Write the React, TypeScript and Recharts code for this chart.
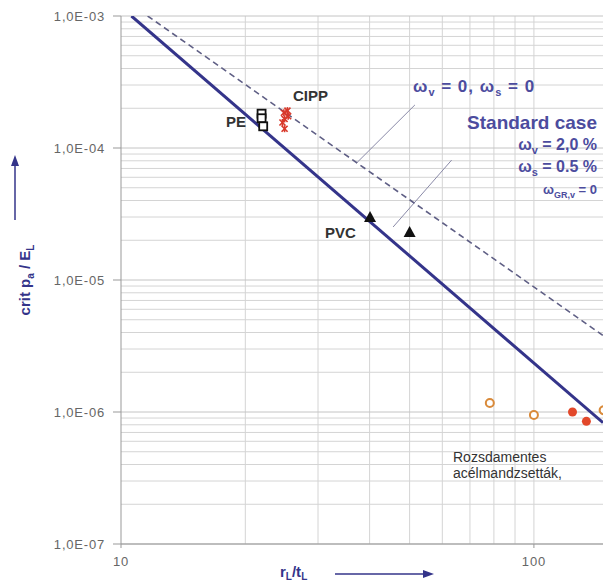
import React from "react";
import {
  ComposedChart,
  Scatter,
  XAxis,
  YAxis,
  ReferenceLine,
} from "recharts";

// log-log buckling chart: crit p_a / E_L against r_L / t_L
const X_TICKS = [10, 100];
const Y_TICKS = [1e-7, 1e-6, 1e-5, 1e-4, 1e-3];
const X_GRID = [20, 30, 40, 50, 60, 70, 80, 90, 100];
const Y_GRID_STEPS = [2, 3, 4, 5, 6, 7, 8, 9];
const Y_DECADES = [1e-7, 1e-6, 1e-5, 1e-4];

const standardCase = [
  { x: 10.6, y: 1e-3 },
  { x: 147, y: 8.3e-7 },
];
const noGapCase = [
  { x: 11.6, y: 1e-3 },
  { x: 147, y: 3.8e-6 },
];

const pePoints = [
  { x: 21.9, y: 1.82e-4 },
  { x: 21.9, y: 1.68e-4 },
  { x: 22.1, y: 1.46e-4 },
];
const cippPoints = [
  { x: 24.8, y: 1.85e-4 },
  { x: 25.3, y: 1.92e-4 },
  { x: 25.4, y: 1.74e-4 },
  { x: 24.9, y: 1.66e-4 },
  { x: 24.6, y: 1.56e-4 },
  { x: 24.9, y: 1.4e-4 },
];
const pvcPoints = [
  { x: 40.1, y: 3.0e-5 },
  { x: 50.0, y: 2.31e-5 },
];
const steelOpen = [
  { x: 78.2, y: 1.17e-6 },
  { x: 100, y: 9.5e-7 },
  { x: 147.5, y: 1.03e-6 },
];
const steelFilled = [
  { x: 124, y: 1.0e-6 },
  { x: 134, y: 8.5e-7 },
];

const leaderNoGap = [
  { x: 51.5, y: 2.12e-4 },
  { x: 37.2, y: 7.7e-5 },
];
const leaderStandard = [
  { x: 63.2, y: 8.1e-5 },
  { x: 45.6, y: 2.52e-5 },
];

const NAVY = "#34348a";
const LABEL_BLUE = "#4c4c9e";
const GRID = "#d4d4d4";

const yGrid = Y_DECADES.flatMap((d) => Y_GRID_STEPS.map((s) => s * d));

const formatY = (v: number) =>
  "1,0E-" + String(-Math.round(Math.log10(v))).padStart(2, "0");

const NoShape = () => <g />;

const Square = (p: any) => (
  <rect
    x={p.cx - 4}
    y={p.cy - 4}
    width={8}
    height={8}
    fill="#fff"
    stroke="#111"
    strokeWidth={1.8}
  />
);

const Star = (p: any) => (
  <g stroke="#d8382a" strokeWidth={1.6}>
    <line x1={p.cx - 3} y1={p.cy - 3} x2={p.cx + 3} y2={p.cy + 3} />
    <line x1={p.cx - 3} y1={p.cy + 3} x2={p.cx + 3} y2={p.cy - 3} />
    <line x1={p.cx} y1={p.cy - 3.5} x2={p.cx} y2={p.cy + 3.5} />
  </g>
);

const Triangle = (p: any) => (
  <polygon
    points={`${p.cx},${p.cy - 6} ${p.cx - 6},${p.cy + 5} ${p.cx + 6},${p.cy + 5}`}
    fill="#111"
  />
);

const OpenCircle = (p: any) => (
  <circle cx={p.cx} cy={p.cy} r={4} fill="#fff" stroke="#d98a3a" strokeWidth={2} />
);

const DotCircle = (p: any) => (
  <circle cx={p.cx} cy={p.cy} r={4.5} fill="#e2482a" />
);

const sub = (t: string, size = 10, shift = 4) => (
  <tspan fontSize={size} dy={shift}>
    {t}
  </tspan>
);

function Overlay() {
  const bold = { fontFamily: "Liberation Sans, Arial, sans-serif", fontWeight: 700 };
  return (
    <svg
      width={603}
      height={584}
      style={{ position: "absolute", left: 0, top: 0, pointerEvents: "none" }}
    >
      <g {...bold} fill="#333" fontSize={15}>
        <text x={293} y={101}>CIPP</text>
        <text x={226} y={127}>PE</text>
        <text x={325} y={238}>PVC</text>
      </g>
      <g {...bold} fill={LABEL_BLUE}>
        <text x={413} y={92} fontSize={17} letterSpacing={1}>
          ω{sub("v", 11)}
          <tspan dy={-4}> = 0, ω</tspan>
          {sub("s", 11)}
          <tspan dy={-4}> = 0</tspan>
        </text>
        <text x={597} y={129} fontSize={19} textAnchor="end">
          Standard case
        </text>
        <text x={597} y={150} fontSize={16} textAnchor="end">
          ω{sub("v", 11)}
          <tspan dy={-4}> = 2,0 %</tspan>
        </text>
        <text x={597} y={172} fontSize={16} textAnchor="end">
          ω{sub("s", 11)}
          <tspan dy={-4}> = 0.5 %</tspan>
        </text>
        <text x={597} y={194} fontSize={13} textAnchor="end">
          ω{sub("GR,v", 9)}
          <tspan dy={-4}> = 0</tspan>
        </text>
      </g>
      <g fontFamily="Liberation Sans, Arial, sans-serif" fontSize={14} fill="#333">
        <text x={453} y={462}>Rozsdamentes</text>
        <text x={453} y={478}>acélmandzsetták,</text>
      </g>

      <g {...bold} fill={NAVY} fontSize={15}>
        <text x={0} y={0} textAnchor="middle" transform="translate(30,280) rotate(-90)">
          crit p{sub("a")}
          <tspan dy={-4}> / E</tspan>
          {sub("L")}
        </text>
        <text x={280} y={577}>
          r{sub("L", 10, 3)}
          <tspan dy={-3}>/t</tspan>
          {sub("L", 10, 3)}
        </text>
      </g>
      <line x1={15} y1={220} x2={15} y2={164} stroke={NAVY} strokeWidth={1.5} />
      <polygon points="15,155 11,166 19,166" fill={NAVY} />
      <line x1={335} y1={574} x2={425} y2={574} stroke={NAVY} strokeWidth={1.5} />
      <polygon points="434,574 423,570 423,578" fill={NAVY} />
    </svg>
  );
}

export default function App() {
  const tickStyle = {
    fill: "#666",
    fontSize: 13,
    fontFamily: "Liberation Sans, Arial, sans-serif",
    letterSpacing: 0.8,
  };
  return (
    <div
      style={{
        position: "absolute",
        left: 0,
        top: 0,
        width: 603,
        height: 584,
        background: "#fff",
        overflow: "hidden",
      }}
    >
      <ComposedChart
        width={603}
        height={584}
        margin={{ top: 16, right: 0, bottom: 0, left: 0 }}
      >
        <XAxis
          type="number"
          dataKey="x"
          scale="log"
          domain={[10, 147]}
          allowDataOverflow
          ticks={X_TICKS}
          height={40}
          tickSize={4}
          tickMargin={9}
          stroke="#999"
          tick={tickStyle}
        />
        <YAxis
          type="number"
          dataKey="y"
          scale="log"
          domain={[1e-7, 1e-3]}
          allowDataOverflow
          ticks={Y_TICKS}
          tickFormatter={formatY}
          width={121}
          tickSize={8}
          tickMargin={8}
          stroke="#999"
          tick={tickStyle}
        />
        {X_GRID.map((v) => (
          <ReferenceLine key={`gx-${v}`} x={v} stroke={GRID} strokeWidth={1} />
        ))}
        {yGrid.map((v) => (
          <ReferenceLine key={`gy-${v}`} y={v} stroke={GRID} strokeWidth={1} />
        ))}
        {Y_TICKS.map((v) => (
          <ReferenceLine key={`gm-${v}`} y={v} stroke="#c4c4c4" strokeWidth={1} />
        ))}
        <ReferenceLine
          segment={leaderNoGap}
          stroke="#8a8aa8"
          strokeWidth={1}
          ifOverflow="visible"
        />
        <ReferenceLine
          segment={leaderStandard}
          stroke="#8a8aa8"
          strokeWidth={1}
          ifOverflow="visible"
        />
        <Scatter
          data={noGapCase}
          fill="#5f5f85"
          line={{ stroke: "#5f5f85", strokeWidth: 1.6, strokeDasharray: "6 4" }}
          shape={NoShape}
          isAnimationActive={false}
        />
        <Scatter
          data={standardCase}
          fill={NAVY}
          line={{ stroke: NAVY, strokeWidth: 3 }}
          shape={NoShape}
          isAnimationActive={false}
        />
        <Scatter data={pePoints} shape={Square} isAnimationActive={false} />
        <Scatter data={cippPoints} shape={Star} isAnimationActive={false} />
        <Scatter data={pvcPoints} shape={Triangle} isAnimationActive={false} />
        <Scatter data={steelOpen} shape={OpenCircle} isAnimationActive={false} />
        <Scatter data={steelFilled} shape={DotCircle} isAnimationActive={false} />
      </ComposedChart>
      <Overlay />
    </div>
  );
}
